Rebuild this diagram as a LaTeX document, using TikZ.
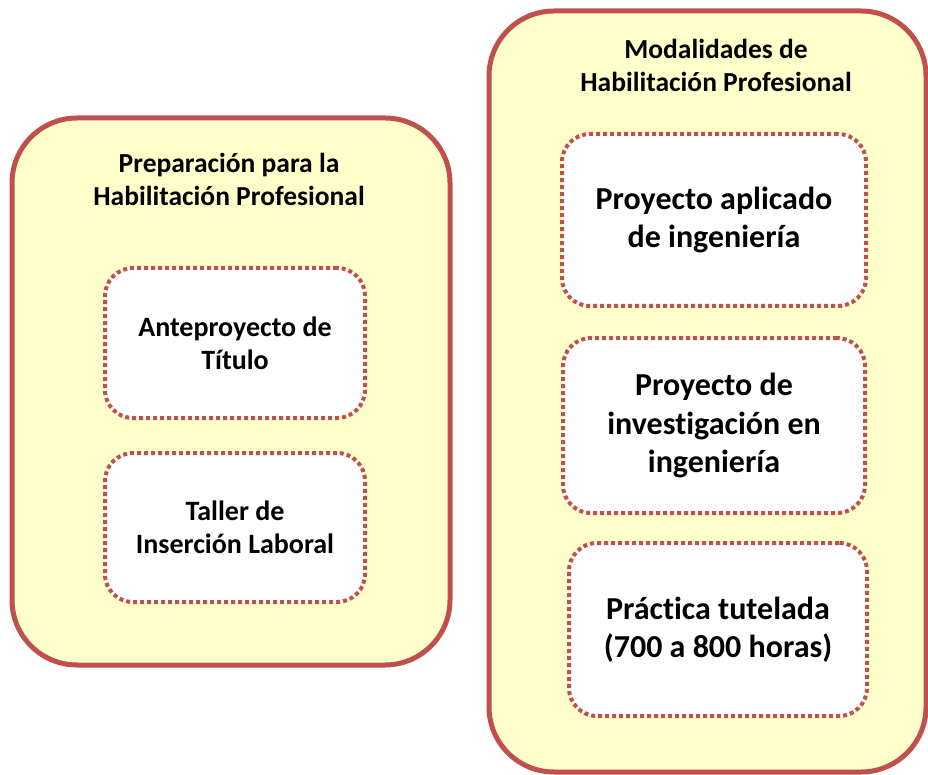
\documentclass[tikz,border=0pt]{standalone}
\usepackage{fontspec}
\setmainfont[Ligatures=NoCommon]{Carlito}
\definecolor{bordred}{RGB}{192,80,77}
\definecolor{paleyel}{RGB}{255,255,204}
\tikzset{
  outerbox/.style={draw=bordred, line width=5pt, fill=paleyel, rounded corners=65pt, inner sep=0pt, outer sep=0pt},
  innerbox/.style={draw=bordred, line width=4pt, dash pattern=on 4pt off 3pt, fill=white, rounded corners=28pt, inner sep=0pt, outer sep=0pt},
  title/.style={font=\fontsize{27.5}{33}\selectfont\bfseries, align=center},
  smalltxt/.style={font=\fontsize{28}{33}\selectfont\bfseries, align=center},
  bigtxt/.style={font=\fontsize{32}{38.5}\selectfont\bfseries, align=center}
}
\begin{document}
\begin{tikzpicture}[x=1pt,y=-1pt]
\useasboundingbox (0,0) rectangle (928,775);
\node[outerbox, minimum width=438pt, minimum height=547pt] (left) at (231,391.5) {};
\node[outerbox, minimum width=437pt, minimum height=761pt] (right) at (707.5,391.5) {};
\node[title] (lt) at (229,179) {Preparación para la\\Habilitación Profesional};
\node[title] (rt) at (716,65) {Modalidades de\\Habilitación Profesional};
\node[innerbox, minimum width=260pt, minimum height=150pt] (a) at (235,343) {};
\node[smalltxt] at (a.center) {Anteproyecto de\\Título};
\node[innerbox, minimum width=260pt, minimum height=149pt] (b) at (235,527.5) {};
\node[smalltxt] at (b.center) {Taller de\\Inserción Laboral};
\node[innerbox, minimum width=304pt, minimum height=172pt] (c) at (714,220) {};
\node[bigtxt] at (c.center) {Proyecto aplicado\\de ingeniería};
\node[innerbox, minimum width=302pt, minimum height=175pt] (d) at (714,425.5) {};
\node[bigtxt] at (d.center) {Proyecto de\\investigación en\\ingeniería};
\node[innerbox, minimum width=298pt, minimum height=173pt] (e) at (718,629.5) {};
\node[bigtxt] at (e.center) {Práctica tutelada\\(700 a 800 horas)};
\end{tikzpicture}
\end{document}
